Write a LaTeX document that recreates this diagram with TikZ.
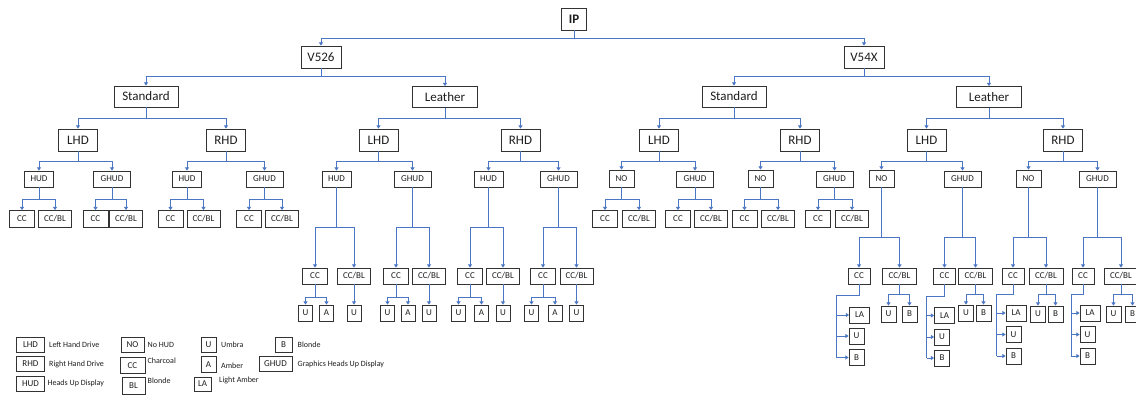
\documentclass[tikz,border=0pt]{standalone}
\usepackage{fontspec}
\setmainfont{Carlito}
\usetikzlibrary{arrows.meta}
\definecolor{edge}{HTML}{333333}
\definecolor{ink}{HTML}{1E1E1E}
\definecolor{wire}{HTML}{4A76C4}
\tikzset{
  box/.style={draw=edge, line width=0.9pt, fill=white, text=ink, inner sep=0pt, anchor=center},
  lg/.style={box, minimum height=22, font=\fontsize{13}{15}\selectfont},
  md/.style={box, minimum height=16, font=\fontsize{9}{11}\selectfont},
  lf/.style={box, minimum height=17, font=\fontsize{9}{11}\selectfont},
  key/.style={box, minimum height=15, font=\fontsize{9}{11}\selectfont},
  bw/.style={minimum width=#1},
  note/.style={anchor=west, inner sep=0pt, text=ink, font=\fontsize{8}{10}\selectfont},
  conn/.style={draw=wire, line width=0.85pt},
  tip/.style={-{Triangle[length=3.2pt,width=4pt]}},
}
% parent, bus height, children
\newcommand\fork[3]{%
  \draw[conn] (#1.south) -- (#1.south |- 0,#2);
  \foreach \c in {#3} \draw[conn,tip] (#1.south |- 0,#2) -| (\c.north);
}
% parent, jog height, rail x, lowest child, children
\newcommand\railfork[5]{%
  \coordinate (#1r) at (#3,#2);
  \draw[conn] (#1.south) |- (#1r) -- (#1r |- #4.west);
  \foreach \c in {#5} \draw[conn,tip] (#1r |- \c.west) -- (\c.west);
}
\begin{document}
\begin{tikzpicture}[x=1pt,y=-1pt]
\useasboundingbox (0,0) rectangle (1136,396);
\fill[white] (0,0) rectangle (1136,396);

% ---- top levels
\node[lg,bw=25,font=\bfseries\fontsize{13}{15}\selectfont] (ip) at (574,19) {IP};
\node[lg,bw=40] (a) at (321,57) {V526};
\node[lg,bw=40] (b) at (864,57) {V54X};
\fork{ip}{38}{a,b}

\node[lg,bw=64,minimum height=21] (aS) at (146,96.5) {Standard};
\node[lg,bw=65,minimum height=21] (aL) at (445,97) {Leather};
\node[lg,bw=64,minimum height=21] (bS) at (734,96.5) {Standard};
\node[lg,bw=65,minimum height=21] (bL) at (989,97) {Leather};
\fork{a}{76}{aS,aL}
\fork{b}{76}{bS,bL}

% ---- drive side
\foreach \n/\x/\t in {aSL/78/LHD, aSR/226/RHD, aLL/378.5/LHD, aLR/520.5/RHD,
                      bSL/659/LHD, bSR/800/RHD, bLL/926.5/LHD, bLR/1063/RHD}
  \node[lg,bw=39] (\n) at (\x,140) {\t};
\fork{aS}{118}{aSL,aSR}
\fork{aL}{118}{aLL,aLR}
\fork{bS}{118}{bSL,bSR}
\fork{bL}{118}{bLL,bLR}

% ---- display
\foreach \n/\x in {aSLh/39, aSRh/187, aLLh/336.5, aLRh/488.5}
  \node[md,bw=29] (\n) at (\x,179) {HUD};
\foreach \n/\x in {aSLg/112, aSRg/264.5, aLLg/412.5, aLRg/558.5,
                   bSLg/695, bSRg/834.5, bLLg/962.5, bLRg/1097.5}
  \node[md,bw=37] (\n) at (\x,179) {GHUD};
\foreach \n/\x in {bSLn/621.5, bSRn/760.5, bLLn/881.5, bLRn/1028.5}
  \node[md,bw=25,minimum height=17] (\n) at (\x,178.5) {NO};
\fork{aSL}{161}{aSLh,aSLg}
\fork{aSR}{161}{aSRh,aSRg}
\fork{aLL}{161}{aLLh,aLLg}
\fork{aLR}{161}{aLRh,aLRg}
\fork{bSL}{161}{bSLn,bSLg}
\fork{bSR}{161}{bSRn,bSRg}
\fork{bLL}{161}{bLLn,bLLg}
\fork{bLR}{161}{bLRn,bLRg}

% ---- colour, standard trim
\foreach \p/\xc/\xb in {aSLh/22/55, aSLg/95.5/126, aSRh/170.5/203.5, aSRg/249/282,
                        bSLn/605/639, bSLg/678/711, bSRn/744.5/778, bSRg/818/852}{
  \node[lf,bw=25] (\p c) at (\xc,219) {CC};
  \node[lf,bw=33] (\p b) at (\xb,219) {CC/BL};
  \fork{\p}{199}{\p c,\p b}
}

% ---- colour, leather trim (V526)
\foreach \p/\xc/\xb in {aLLh/315/354, aLLg/396/429, aLRh/470/503, aLRg/543/576.5}{
  \node[md,bw=25] (\p c) at (\xc,276) {CC};
  \node[md,bw=33] (\p b) at (\xb,276) {CC/BL};
  \fork{\p}{227}{\p c,\p b}
}
% ---- colour, leather trim (V54X)
\foreach \p/\xc/\xb in {bLLn/859/899.5, bLLg/944.5/975.5, bLRn/1013/1046, bLRg/1083/1121}{
  \node[md,bw=22] (\p c) at (\xc,276) {CC};
  \node[md,bw=34] (\p b) at (\xb,276) {CC/BL};
  \fork{\p}{237}{\p c,\p b}
}

% ---- headliner, V526 leather
\foreach \p/\xu/\xa in {aLLh/305.5/326.5, aLLg/387.5/408, aLRh/458.5/481.5, aLRg/531.5/555}{
  \node[md,bw=14] (\p cu) at (\xu,313) {U};
  \node[md,bw=14] (\p ca) at (\xa,313) {A};
  \fork{\p c}{297}{\p cu,\p ca}
  \node[md,bw=14] (\p bu) at (\p b |- 0,313) {U};
  \draw[conn,tip] (\p b.south) -- (\p bu.north);
}

% ---- headliner, V54X leather
\foreach \p/\xu/\xB/\yy in {bLLn/888.5/909.5/314, bLLg/966/983.5/313, bLRn/1038/1055.5/314, bLRg/1113.5/1132.5/314}{
  \node[md,bw=15] (\p bu) at (\xu,\yy) {U};
  \node[md,bw=15] (\p bB) at (\xB,\yy) {B};
  \fork{\p b}{294}{\p bu,\p bB}
}
\foreach \p/\xl/\xs/\ya/\yb/\yc/\jy/\rx in {
    bLLn/859.5/856.5/315/336/357.5/295/836,
    bLLg/944.5/942/315.5/337/358/296/926.5,
    bLRn/1016/1013.5/313/334.5/356/294/996.5,
    bLRg/1090/1087.5/313/334.5/356/294/1071}{
  \node[md,bw=20] (\p cl) at (\xl,\ya) {LA};
  \node[md,bw=15] (\p cu) at (\xs,\yb) {U};
  \node[md,bw=15] (\p cB) at (\xs,\yc) {B};
  \railfork{\p c}{\jy}{\rx}{\p cB}{\p cl,\p cu,\p cB}
}

% ---- key
\node[key,bw=28] (kLHD) at (30.5,345) {LHD};
\node[note] (tLHD) at (49,345) {Left Hand Drive};
\node[key,bw=28] (kRHD) at (30.5,364) {RHD};
\node[note] (tRHD) at (49,364.5) {Right Hand Drive};
\node[key,bw=28] (kHUD) at (30.5,383.5) {HUD};
\node[note] (tHUD) at (47.5,383.5) {Heads Up Display};

\node[key,bw=23] (kNO) at (132.5,345) {NO};
\node[note] (tNO) at (147.5,345) {No HUD};
\node[key,bw=25,minimum height=16] (kCC) at (132.5,365.5) {CC};
\node[note] (tCC) at (147.5,361) {Charcoal};
\node[key,bw=23,minimum height=17] (kBL) at (133.5,385.5) {BL};
\node[note] (tBL) at (147.5,380.5) {Blonde};

\node[key,bw=15] (kU) at (208.5,345) {U};
\node[note] (tU) at (221,345) {Umbra};
\node[key,bw=15,minimum height=16] (kA) at (208.5,364.5) {A};
\node[note] (tA) at (221,365.5) {Amber};
\node[key,bw=17,minimum height=14] (kLA) at (202.5,384) {LA};
\node[note] (tLA) at (219,380) {Light Amber};

\node[key,bw=17] (kB) at (283.5,345) {B};
\node[note] (tB) at (297.5,345) {Blonde};
\node[key,bw=33] (kGHUD) at (275.5,364) {GHUD};
\node[note] (tGHUD) at (297.5,364) {Graphics Heads Up Display};
\end{tikzpicture}
\end{document}
